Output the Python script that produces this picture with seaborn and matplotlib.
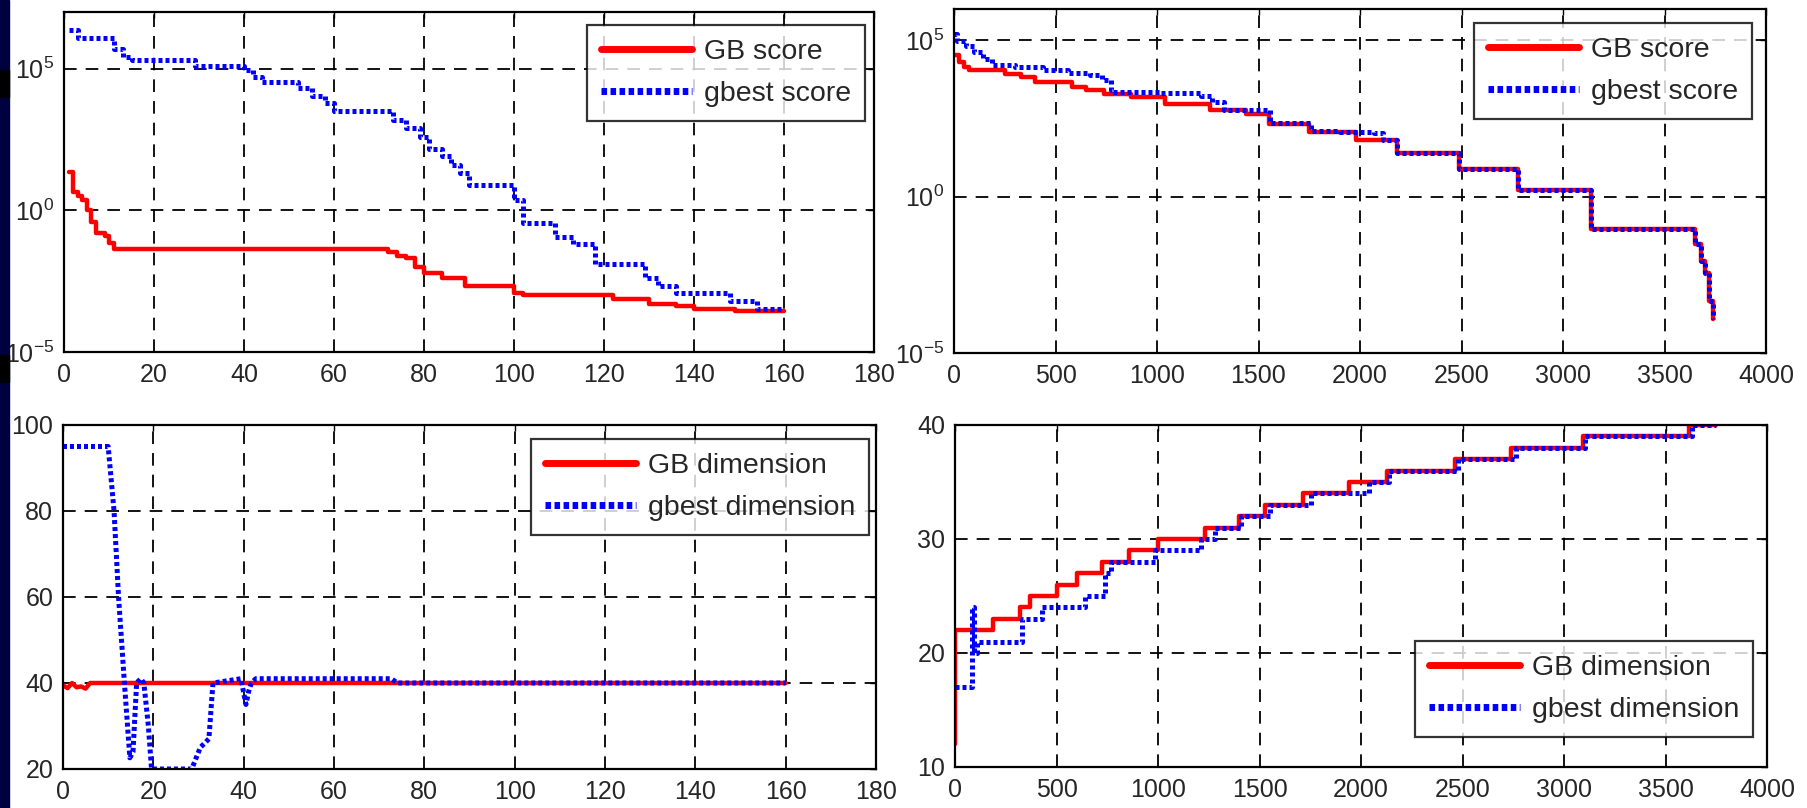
import numpy as np
import pandas as pd
import seaborn as sns
import matplotlib
matplotlib.use('Agg')
import matplotlib.pyplot as plt
from matplotlib.patches import Rectangle

# ---- data ----
# top left: score vs iteration (log scale)
tl_gb_x = [1, 2, 3, 4, 5, 6, 7, 8, 9, 10, 11, 72, 74, 76, 78, 80, 84, 89, 100, 102, 122, 130, 136, 140, 149, 160]
tl_gb_y = [2.3e1, 4.4e0, 3.2e0, 2.3e0, 1.0e0, 4.0e-1, 1.6e-1, 1.6e-1, 1.2e-1, 7e-2, 4.4e-2, 3.3e-2, 2.4e-2,
           2.0e-2, 1.0e-2, 6.3e-3, 4.0e-3, 2.2e-3, 1.2e-3, 1.0e-3, 7.2e-4, 5.0e-4, 4.1e-4, 3.4e-4, 2.8e-4, 2.8e-4]
tl_gbest_x = [1, 3, 11, 13, 15, 29, 40, 42, 44, 52, 55, 58, 60, 73, 76, 79, 81, 84, 86, 88, 90, 100, 102,
              109, 113, 118, 129, 132, 136, 148, 154, 160]
tl_gbest_y = [2.3e6, 1.2e6, 5e5, 2.5e5, 2.0e5, 1.2e5, 9e4, 5e4, 3.5e4, 2e4, 1.1e4, 6e3, 3.2e3, 1.5e3, 8e2,
              4e2, 1.5e2, 8e1, 4e1, 2e1, 7.7e0, 2.3e0, 3.7e-1, 1.1e-1, 6.6e-2, 1.3e-2, 4e-3, 2.1e-3, 1.2e-3,
              6.3e-4, 3.2e-4, 3.2e-4]

# top right: score vs evaluations (log scale)
tr_gb_x = [0, 25, 50, 75, 250, 330, 400, 580, 650, 740, 870, 1040, 1260, 1440, 1550, 1750, 1980, 2180,
           2490, 2780, 3140, 3650, 3680, 3700, 3720, 3740]
tr_gb_y = [3.3e4, 2.0e4, 1.4e4, 1.1e4, 8.5e3, 6.6e3, 4.6e3, 3.2e3, 2.5e3, 1.95e3, 1.5e3, 9.3e2, 5.7e2,
           4.5e2, 2.1e2, 1.2e2, 6.3e1, 2.4e1, 7.9e0, 1.6e0, 9.1e-2, 3e-2, 8.5e-3, 3.5e-3, 4.6e-4, 1.2e-4]
tr_gbest_x = [0, 15, 57, 100, 142, 185, 300, 440, 560, 671, 728, 771, 785, 1013, 1215, 1272, 1329, 1557,
              1757, 1900, 2070, 2113, 2180, 2490, 2780, 3140, 3650, 3680, 3700, 3720, 3740]
tr_gbest_y = [1.6e5, 9.8e4, 6.8e4, 4.2e4, 2.5e4, 1.6e4, 1.4e4, 1.1e4, 9.0e3, 7.6e3, 5.2e3, 2.5e3, 2.2e3,
              2.0e3, 1.7e3, 1.07e3, 5.7e2, 2.3e2, 1.3e2, 1.2e2, 1.05e2, 6.3e1, 2.4e1, 7.9e0, 1.6e0, 9.1e-2,
              3e-2, 8.5e-3, 3.5e-3, 4.6e-4, 1.2e-4]

# bottom left: dimension vs iteration
bl_gb_x = [0, 1, 2, 3, 4, 5, 6, 160]
bl_gb_y = [39.5, 38.8, 40, 39, 39.2, 38.7, 40, 40]
bl_gbest_x = [0, 10, 11.3, 12.3, 13.6, 14.8, 15.5, 16.3, 17.2, 17.9, 18.9, 19.6, 28.5, 30.4, 32.3, 33.2,
              39.4, 40.5, 41.1, 41.7, 42.7, 72.7, 74, 160]
bl_gbest_y = [95, 95, 80, 60, 40, 22.6, 24, 40, 41, 40, 30, 20, 20, 25, 27, 40, 41, 35, 38, 40, 41, 41, 40, 40]

# bottom right: dimension vs evaluations
br_gb_x = [0, 1, 185, 320, 370, 500, 600, 725, 855, 1000, 1230, 1400, 1525, 1715, 1940, 2130, 2465,
           2740, 3095, 3615, 3750]
br_gb_y = [12, 22, 23, 24, 25, 26, 27, 28, 29, 30, 31, 32, 33, 34, 35, 36, 37, 38, 39, 40, 40]
br_gbest_x = [0, 71, 84, 95, 110, 328, 427, 640, 739, 768, 983, 1210, 1281, 1409, 1551, 1752, 2037, 2136,
              2478, 2763, 3103, 3630, 3750]
br_gbest_y = [17, 17, 24, 20, 21, 23, 24, 25, 27, 28, 29, 30, 31, 32, 33, 34, 35, 36, 37, 38, 39, 40, 40]

sns.set_style('white')
plt.rcParams['font.family'] = ['Liberation Sans', 'DejaVu Sans']
plt.rcParams['mathtext.default'] = 'regular'

W, H = 1807, 808
fig = plt.figure(figsize=(W / 100, H / 100), dpi=100)
fig.patch.set_facecolor('white')


def px_axes(l, t, r, b):
    return fig.add_axes([l / W, 1 - b / H, (r - l) / W, (b - t) / H])


red_kw = dict(color='#ff0000', lw=3.2, estimator=None, sort=False)
blue_kw = dict(color='#0000ff', lw=3.6, estimator=None, sort=False, dashes=False)


def style(ax, xlim, xticks, ylim, yticks, ylabels=None):
    ax.set_xlim(*xlim)
    ax.set_ylim(*ylim)
    ax.set_xticks(xticks)
    ax.set_yticks(yticks)
    if ylabels is not None:
        ax.set_yticklabels(ylabels)
    ax.minorticks_off()
    ax.grid(True, color='black', linestyle=(0, (7, 5)), lw=1.3)
    for s in ax.spines.values():
        s.set_visible(True)
        s.set_color('black')
        s.set_linewidth(1.6)
    ax.tick_params(direction='in', length=4, width=1, top=True, right=True,
                   labelsize=18, labelcolor='#262626', colors='black')
    ax.tick_params(axis='y', pad=7)
    ax.tick_params(axis='x', pad=8)
    ax.set_xlabel('')
    ax.set_ylabel('')


def legend(ax, labels, left, top, loc='upper left'):
    leg = ax.legend(labels=labels, loc=loc, bbox_to_anchor=(left / W, 1 - top / H),
                    bbox_transform=fig.transFigure, fontsize=20.5, frameon=True, fancybox=False,
                    handlelength=3.2, handletextpad=0.4, labelspacing=0.55, borderpad=0.5,
                    borderaxespad=0)
    leg.get_frame().set_edgecolor('black')
    leg.get_frame().set_linewidth(1.6)
    for txt in leg.get_texts():
        txt.set_color('#262626')
    lines = leg.get_lines()
    lines[0].set_linewidth(5)
    lines[1].set_linewidth(5)
    lines[1].set_linestyle((0, (0.8, 0.5)))
    return leg


log_labels = ['$10^{-5}$', '$10^{0}$', '$10^{5}$']

# top left
ax = px_axes(64, 12, 874, 352)
ax.set_yscale('log')
sns.lineplot(x=tl_gb_x, y=tl_gb_y, ax=ax, drawstyle='steps-post', **red_kw)
sns.lineplot(x=tl_gbest_x, y=tl_gbest_y, ax=ax, drawstyle='steps-post', **blue_kw)
ax.lines[1].set_linestyle((0, (0.8, 0.6)))
style(ax, (0, 180), range(0, 181, 20), (1e-5, 1e7), [1e-5, 1, 1e5], log_labels)
legend(ax, ['GB score', 'gbest score'], 587, 25)

# top right
ax = px_axes(954, 9, 1766, 353)
ax.set_yscale('log')
sns.lineplot(x=tr_gb_x, y=tr_gb_y, ax=ax, drawstyle='steps-post', **red_kw)
sns.lineplot(x=tr_gbest_x, y=tr_gbest_y, ax=ax, drawstyle='steps-post', **blue_kw)
ax.lines[1].set_linestyle((0, (0.8, 0.6)))
style(ax, (0, 4000), range(0, 4001, 500), (1e-5, 1e6), [1e-5, 1, 1e5], log_labels)
legend(ax, ['GB score', 'gbest score'], 1474, 23)

# bottom left
ax = px_axes(63, 425, 876, 769)
sns.lineplot(x=bl_gb_x, y=bl_gb_y, ax=ax, **red_kw)
sns.lineplot(x=bl_gbest_x, y=bl_gbest_y, ax=ax, **blue_kw)
ax.lines[1].set_linestyle((0, (0.8, 0.6)))
style(ax, (0, 180), range(0, 181, 20), (20, 100), range(20, 101, 20))
legend(ax, ['GB dimension', 'gbest dimension'], 531, 439)

# bottom right
ax = px_axes(955, 425, 1767, 767)
sns.lineplot(x=br_gb_x, y=br_gb_y, ax=ax, drawstyle='steps-post', **red_kw)
sns.lineplot(x=br_gbest_x, y=br_gbest_y, ax=ax, drawstyle='steps-post', **blue_kw)
ax.lines[1].set_linestyle((0, (0.8, 0.6)))
style(ax, (0, 4000), range(0, 4001, 500), (10, 40), range(10, 41, 10))
legend(ax, ['GB dimension', 'gbest dimension'], 1415, 641)

# slide background strip on the left edge
fig.add_artist(Rectangle((0, 0), 9 / W, 1, transform=fig.transFigure, color='#000040', zorder=10))
for y0, y1 in [(70, 97), (355, 382)]:
    fig.add_artist(Rectangle((0, 1 - y1 / H), 9 / W, (y1 - y0) / H, transform=fig.transFigure,
                             color='black', zorder=11))

fig.savefig('out.png', dpi=100)
